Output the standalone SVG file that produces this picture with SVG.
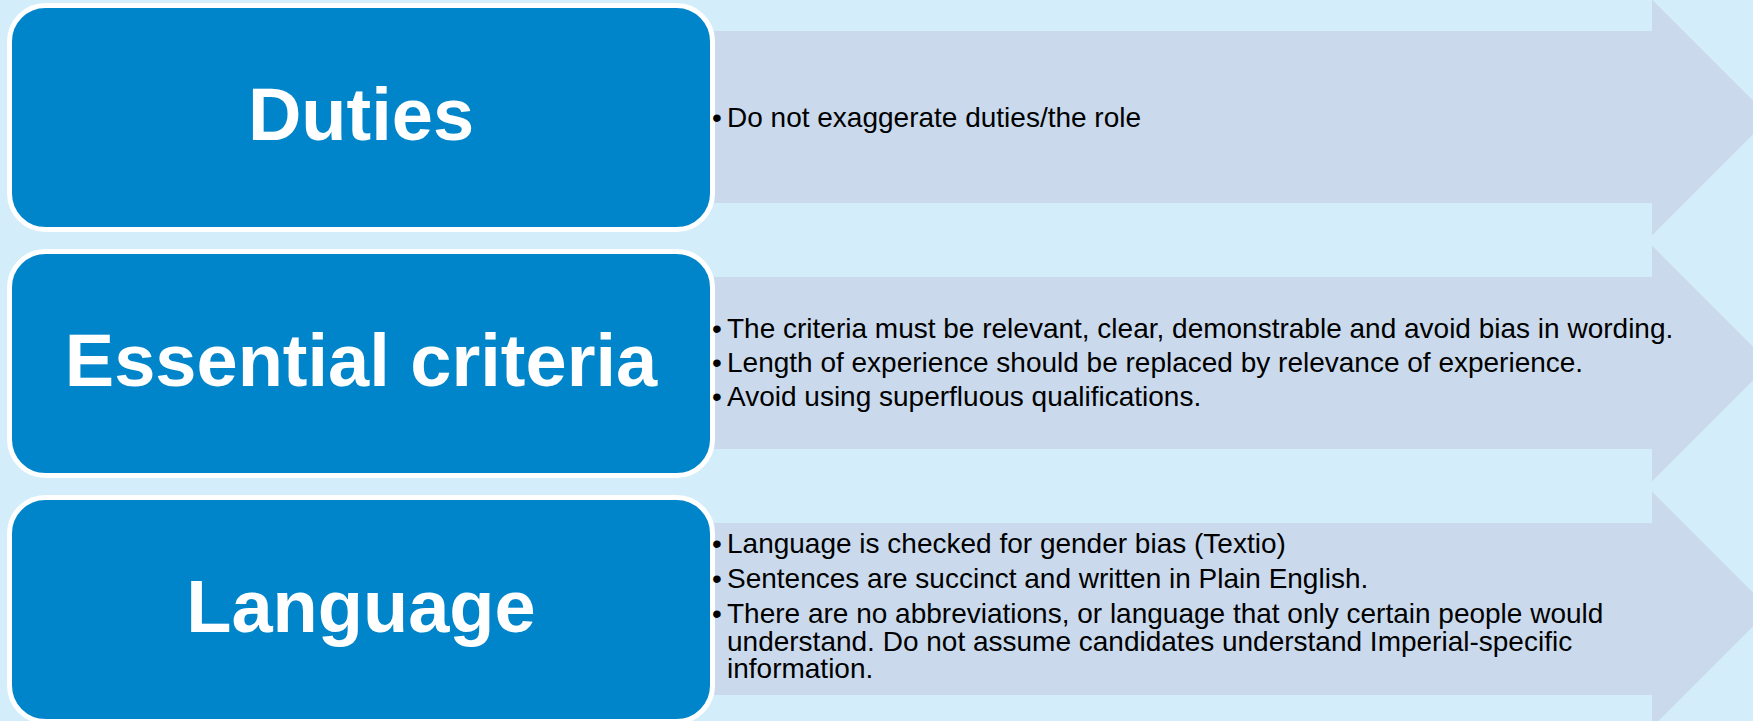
<svg xmlns="http://www.w3.org/2000/svg" width="1753" height="721" viewBox="0 0 1753 721">
<style>
.bg{fill:#D3EEFA}
.band{fill:#CADAEC}
.box{fill:#0085CA;stroke:#FFFFFF;stroke-width:5}
.title{font-family:"Liberation Sans",Arial,sans-serif;font-weight:bold;font-size:74px;fill:#FFFFFF;text-anchor:middle}
.body{font-family:"Liberation Sans",Arial,sans-serif;font-size:28px;fill:#000000}
</style>
<defs>
<polygon id="arrow" points="700,31 1652,31 1652,-0.5 1770,117.5 1652,235.5 1652,203 700,203"/>
</defs>
<rect class="bg" x="0" y="0" width="1753" height="721"/>
<g id="connectors">
<use href="#arrow" class="band"/>
<use href="#arrow" class="band" transform="translate(0,246)"/>
<use href="#arrow" class="band" transform="translate(0,492)"/>
</g>
<g id="node-duties">
<rect class="box" x="9.5" y="5.5" width="703" height="224" rx="36"/>
<text class="title" x="361" y="140">Duties</text>
</g>
<g id="node-duties-text">
<text class="body" x="712" y="127">•<tspan x="727">Do not exaggerate duties/the role</tspan></text>
</g>
<g id="node-essential">
<rect class="box" x="9.5" y="251.5" width="703" height="224" rx="36"/>
<text class="title" x="361" y="386">Essential criteria</text>
</g>
<g id="node-essential-text">
<text class="body" x="712" y="338">•<tspan x="727">The criteria must be relevant, clear, demonstrable and avoid bias in wording.</tspan></text>
<text class="body" x="712" y="372">•<tspan x="727">Length of experience should be replaced by relevance of experience.</tspan></text>
<text class="body" x="712" y="406">•<tspan x="727">Avoid using superfluous qualifications.</tspan></text>
</g>
<g id="node-language">
<rect class="box" x="9.5" y="497.5" width="703" height="224" rx="36"/>
<text class="title" x="361" y="632">Language</text>
</g>
<g id="node-language-text">
<text class="body" x="712" y="553">•<tspan x="727">Language is checked for gender bias (Textio)</tspan></text>
<text class="body" x="712" y="588">•<tspan x="727">Sentences are succinct and written in Plain English.</tspan></text>
<text class="body" x="712" y="623">•<tspan x="727">There are no abbreviations, or language that only certain people would</tspan><tspan x="727" y="651">understand. Do not assume candidates understand Imperial-specific</tspan><tspan x="727" y="678">information.</tspan></text>
</g>
</svg>
